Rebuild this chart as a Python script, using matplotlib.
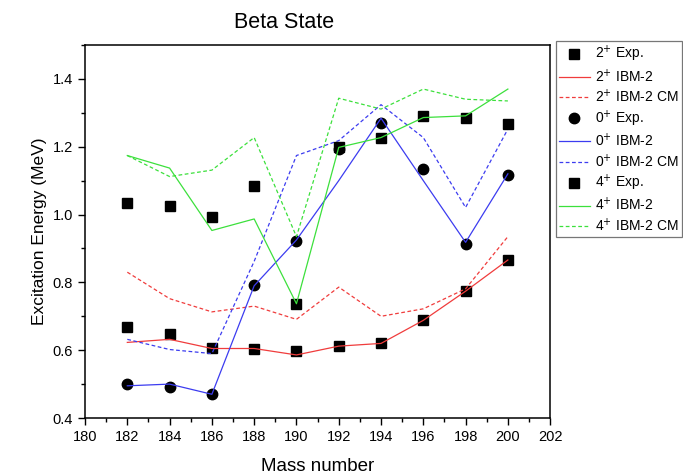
import matplotlib.pyplot as plt
from matplotlib.ticker import MultipleLocator

plt.rcParams['font.family'] = ['Liberation Sans', 'DejaVu Sans']

A = [182, 184, 186, 188, 190, 192, 194, 196, 198, 200]

# 2+ state
exp2 = [0.667, 0.648, 0.606, 0.605, 0.597, 0.612, 0.621, 0.688, 0.775, 0.866]
ibm2 = [0.623, 0.632, 0.605, 0.605, 0.586, 0.612, 0.620, 0.688, 0.774, 0.866]
cm2 = [0.830, 0.752, 0.713, 0.730, 0.691, 0.786, 0.700, 0.722, 0.781, 0.935]

# 0+ state
exp0 = [0.499, 0.492, 0.471, 0.793, 0.921, 1.193, 1.269, 1.135, 0.914, 1.118]
ibm0 = [0.495, 0.500, 0.470, 0.790, 0.925, 1.100, 1.284, 1.100, 0.918, 1.120]
cm0 = [0.632, 0.602, 0.590, 0.862, 1.174, 1.218, 1.324, 1.227, 1.021, 1.252]

# 4+ state
exp4 = [1.034, 1.026, 0.992, 1.085, 0.737, 1.198, 1.227, 1.291, 1.286, 1.268]
ibm4 = [1.174, 1.137, 0.953, 0.987, 0.737, 1.198, 1.227, 1.286, 1.291, 1.370]
cm4 = [1.174, 1.112, 1.131, 1.227, 0.935, 1.343, 1.311, 1.370, 1.340, 1.335]

red = '#f03c3c'
blue = '#3c3cf0'
green = '#3ce03c'

fig = plt.figure(figsize=(6.83, 4.76), dpi=100)
ax = fig.add_axes([0.1245, 0.1218, 0.681, 0.7837])

ax.plot(A, exp2, 's', color='black', ms=6.5, label='2$^{+}$ Exp.')
ax.plot(A, ibm2, '-', color=red, lw=0.9, label='2$^{+}$ IBM-2')
ax.plot(A, cm2, '--', color=red, lw=0.9, dashes=(3, 2), label='2$^{+}$ IBM-2 CM')
ax.plot(A, exp0, 'o', color='black', ms=7.5, label='0$^{+}$ Exp.')
ax.plot(A, ibm0, '-', color=blue, lw=0.9, label='0$^{+}$ IBM-2')
ax.plot(A, cm0, '--', color=blue, lw=0.9, dashes=(3, 2), label='0$^{+}$ IBM-2 CM')
ax.plot(A, exp4, 's', color='black', ms=6.5, label='4$^{+}$ Exp.')
ax.plot(A, ibm4, '-', color=green, lw=0.9, label='4$^{+}$ IBM-2')
ax.plot(A, cm4, '--', color=green, lw=0.9, dashes=(3, 2), label='4$^{+}$ IBM-2 CM')

ax.set_xlim(180, 202)
ax.set_ylim(0.4, 1.5)
ax.xaxis.set_major_locator(MultipleLocator(2))
ax.xaxis.set_minor_locator(MultipleLocator(1))
ax.yaxis.set_minor_locator(MultipleLocator(0.1))
ax.set_yticks([0.4, 0.6, 0.8, 1.0, 1.2, 1.4])
ax.set_yticklabels(['0.4', '0.6', '0.8', '1.0', '1.2', '1.4'])
ax.tick_params(which='major', direction='out', length=5, width=1, labelsize=10.5)
ax.tick_params(which='minor', direction='out', length=3, width=1)
for s in ax.spines.values():
    s.set_linewidth(1.1)

ax.set_xlabel('Mass number', fontsize=13.5, labelpad=10)
ax.set_ylabel('Excitation Energy (MeV)', fontsize=12.5)
ax.set_title('Beta State', fontsize=15.5, x=0.428, pad=12)

leg = ax.legend(loc='upper left', bbox_to_anchor=(1.012, 1.01), fontsize=10,
                frameon=True, fancybox=False, edgecolor='#555555',
                handlelength=2.3, handletextpad=0.35, labelspacing=0.23,
                borderpad=0.2, borderaxespad=0)
leg.get_frame().set_linewidth(0.9)

fig.savefig('out.png', dpi=100)
